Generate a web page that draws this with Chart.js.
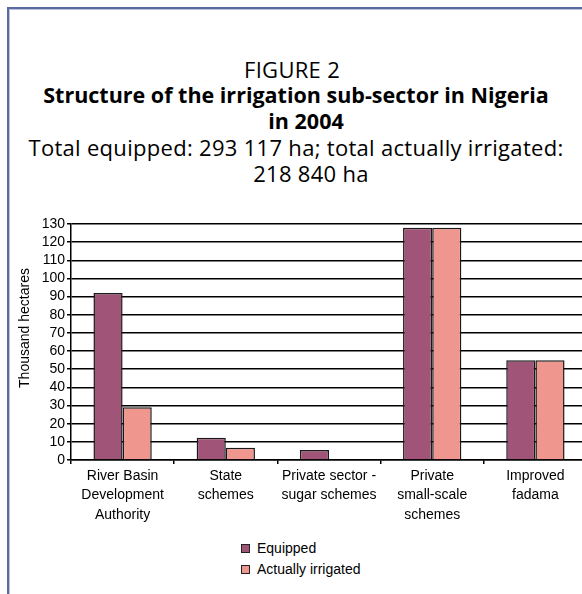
<!DOCTYPE html>
<html lang="en">
<head>
    <meta charset="UTF-8">
    <title>Irrigation sub-sector in Nigeria 2004</title>
    <script src="https://cdn.jsdelivr.net/npm/chart.js"></script>
    <style>
        body {
            margin: 0;
            width: 582px;
            height: 594px;
            overflow: hidden;
            position: relative;
            background: #fff;
            font-family: "Open Sans", sans-serif;
            color: #000;
        }
        .frame {
            position: absolute;
            left: 7px;
            top: 7px;
            width: 640px;
            height: 640px;
            border-left: 2px solid #5a6ba0;
            border-top: 2px solid #5a6ba0;
            box-shadow: inset 1px 1px 0 #b8c2de;
        }
        .heading {
            position: absolute;
            left: 8px;
            top: 56px;
            width: 576px;
            font-size: 22px;
            line-height: 26px;
            text-align: center;
        }
        .heading div { white-space: nowrap; letter-spacing: 0.3px; }
        .heading .bold { font-weight: bold; font-size: 21.5px; letter-spacing: 0; }
        #chart {
            position: absolute;
            left: 0;
            top: 210px;
        }
        .legend {
            position: absolute;
            left: 241px;
            top: 538px;
            font-family: "Liberation Sans", Arial, sans-serif;
            font-size: 14px;
            line-height: 21px;
        }
        .legend .item { display: flex; align-items: center; }
        .legend .swatch {
            width: 7px;
            height: 7px;
            border: 1px solid #222;
            margin-right: 7px;
        }
    </style>
</head>
<body>
    <div class="frame"></div>
    <div class="heading">
        <div style="padding-right: 8px;">FIGURE 2</div>
        <div class="bold">Structure of the irrigation sub-sector in Nigeria</div>
        <div class="bold" style="padding-left: 20px;">in 2004</div>
        <div>Total equipped: 293 117 ha; total actually irrigated:</div>
        <div style="padding-left: 30px;">218 840 ha</div>
    </div>
    <canvas id="chart" width="587" height="320"></canvas>
    <div class="legend" id="legend"></div>
    <script>
        const categories = [
            ['River Basin', 'Development', 'Authority'],
            ['State', 'schemes'],
            ['Private sector -', 'sugar schemes'],
            ['Private', 'small-scale', 'schemes'],
            ['Improved', 'fadama']
        ];
        const seriesNames = ['Equipped', 'Actually irrigated'];
        const equipped = [92, 12.2, 5.5, 128, 55];
        const irrigated = [29, 6.8, 0, 128, 55];
        const colors = ['#a05478', '#ef968f'];
        const yTitle = 'Thousand hectares';

        const axisFont = { family: '"Liberation Sans", Arial, sans-serif', size: 14 };

        // rotated axis title, drawn a bit above centre like the original
        const yTitlePlugin = {
            id: 'yTitle',
            afterDraw(chart) {
                const ctx = chart.ctx;
                const area = chart.chartArea;
                ctx.save();
                ctx.translate(25, area.top + 104);
                ctx.rotate(-Math.PI / 2);
                ctx.font = '14px "Liberation Sans", Arial, sans-serif';
                ctx.fillStyle = '#000';
                ctx.textAlign = 'center';
                ctx.textBaseline = 'middle';
                ctx.fillText(yTitle, 0, 0);
                ctx.restore();
            }
        };

        const chart = new Chart(document.getElementById('chart'), {
            type: 'bar',
            data: {
                labels: categories,
                datasets: [
                    { label: seriesNames[0], data: equipped, backgroundColor: colors[0] },
                    { label: seriesNames[1], data: irrigated, backgroundColor: colors[1] }
                ]
            },
            options: {
                responsive: false,
                animation: false,
                layout: { padding: { top: 14, right: 0, left: 0, bottom: 0 } },
                datasets: {
                    bar: {
                        categoryPercentage: 0.565,
                        barPercentage: 1.0,
                        borderWidth: 1.5,
                        borderColor: '#1a1a1a',
                        borderSkipped: 'start'
                    }
                },
                plugins: {
                    legend: { display: false },
                    tooltip: { enabled: false }
                },
                scales: {
                    x: {
                        afterFit(scale) { scale.height = 70; },
                        grid: {
                            drawOnChartArea: false,
                            drawTicks: true,
                            tickLength: 4,
                            color: '#000',
                            lineWidth: 1.5,
                            offset: true
                        },
                        border: { color: '#000', width: 1.5 },
                        ticks: {
                            color: '#000',
                            font: Object.assign({ lineHeight: 1.4 }, axisFont),
                            padding: 2,
                            maxRotation: 0,
                            autoSkip: false
                        }
                    },
                    y: {
                        min: 0,
                        max: 130,
                        afterFit(scale) { scale.width = 71; },
                        grid: {
                            color: '#000',
                            lineWidth: 1.5,
                            drawTicks: true,
                            tickLength: 4
                        },
                        border: { color: '#000', width: 1.5 },
                        ticks: {
                            stepSize: 10,
                            autoSkip: false,
                            color: '#000',
                            font: axisFont,
                            padding: 2
                        }
                    }
                }
            },
            plugins: [yTitlePlugin]
        });

        const legend = document.getElementById('legend');
        seriesNames.forEach((name, i) => {
            const item = document.createElement('div');
            item.className = 'item';
            const sw = document.createElement('span');
            sw.className = 'swatch';
            sw.style.background = colors[i];
            const txt = document.createElement('span');
            txt.textContent = name;
            item.appendChild(sw);
            item.appendChild(txt);
            legend.appendChild(item);
        });
    </script>
</body>
</html>
